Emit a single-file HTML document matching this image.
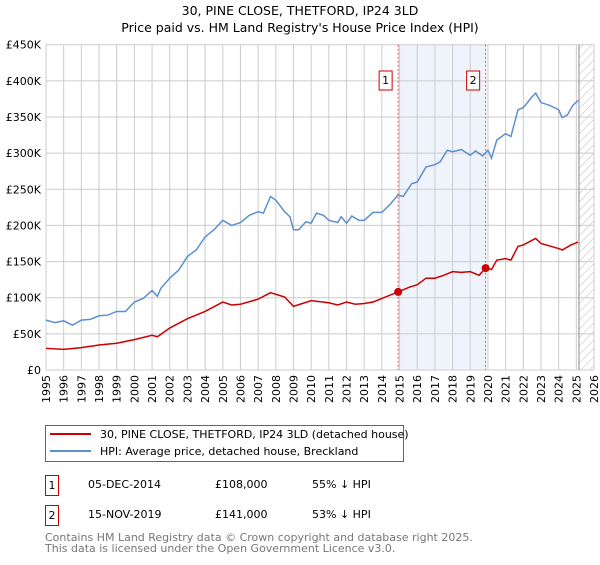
<!DOCTYPE html>
<html><head><meta charset="utf-8"><style>
body{margin:0;background:#fff;font-family:"Liberation Sans","DejaVu Sans",sans-serif;}
svg text{font-family:"DejaVu Sans","Liberation Sans",sans-serif;}
</style></head><body>
<svg width="600" height="560" viewBox="0 0 600 560">
<defs><pattern id="hatch" width="6" height="6" patternUnits="userSpaceOnUse" patternTransform="rotate(45)"><line x1="0" y1="0" x2="0" y2="6" stroke="#bbb" stroke-width="1"/></pattern></defs>
<text x="300" y="15" text-anchor="middle" font-size="12.5">30, PINE CLOSE, THETFORD, IP24 3LD</text>
<text x="300" y="32" text-anchor="middle" font-size="12.5">Price paid vs. HM Land Registry's House Price Index (HPI)</text>
<g id="plot"></g>
<g>
<rect x="45.5" y="425.5" width="358" height="36" fill="#fff" stroke="#666"/>
<line x1="50" y1="434" x2="91" y2="434" stroke="#cc0000" stroke-width="2"/>
<text x="100" y="438" font-size="11">30, PINE CLOSE, THETFORD, IP24 3LD (detached house)</text>
<line x1="50" y1="451" x2="91" y2="451" stroke="#5b8fd0" stroke-width="2"/>
<text x="100" y="455" font-size="11">HPI: Average price, detached house, Breckland</text>
</g>
<g font-size="11">
<rect x="45.5" y="475.5" width="13" height="20" fill="#fff" stroke="#cc0000"/><text x="52" y="489" text-anchor="middle">1</text>
<text x="88" y="488">05-DEC-2014</text><text x="215" y="488">£108,000</text><text x="312" y="488">55% ↓ HPI</text>
<rect x="45.5" y="505.5" width="13" height="20" fill="#fff" stroke="#cc0000"/><text x="52" y="519" text-anchor="middle">2</text>
<text x="88" y="518">15-NOV-2019</text><text x="215" y="518">£141,000</text><text x="312" y="518">53% ↓ HPI</text>
</g>
<text x="45" y="541" font-size="11" fill="#777">Contains HM Land Registry data © Crown copyright and database right 2025.</text>
<text x="45" y="552" font-size="11" fill="#777">This data is licensed under the Open Government Licence v3.0.</text>
</svg>
<script>
const hpiT=[1995,1995.5,1996,1996.5,1997,1997.5,1998,1998.5,1999,1999.5,2000,2000.5,2001,2001.3,2001.5,2002,2002.5,2003,2003.5,2004,2004.5,2005,2005.5,2006,2006.5,2007,2007.3,2007.7,2008,2008.5,2008.8,2009,2009.3,2009.7,2010,2010.3,2010.7,2011,2011.5,2011.7,2012,2012.3,2012.7,2013,2013.5,2014,2014.5,2014.9,2015.2,2015.7,2016,2016.5,2017,2017.3,2017.7,2018,2018.5,2019,2019.3,2019.7,2020,2020.2,2020.5,2021,2021.3,2021.7,2022,2022.5,2022.7,2023,2023.5,2024,2024.2,2024.5,2024.8,2025.1];
const hpiV=[69,65.5,68,62,69,70,75,76,81,81,94,99,110,102,113,127,138,157,166,184,194,207,200,204,214,219,217,240,235,219,212,194,194,205,203,217,214,207,204,212,203,213,207,207,218,218,230,242,240,258,260,281,284,288,304,302,305,297,303,296,304,293,318,327,323,360,363,378,383,370,366,360,349,353,366,373];
const priceT=[1995,1996,1997,1998,1999,2000,2001,2001.3,2002,2003,2004,2005,2005.5,2006,2007,2007.7,2008.5,2009,2009.5,2010,2011,2011.5,2012,2012.5,2013,2013.5,2014,2014.92,2015.5,2016,2016.5,2017,2017.5,2018,2018.5,2019,2019.5,2019.87,2020.2,2020.5,2021,2021.3,2021.7,2022,2022.7,2023,2024,2024.2,2024.7,2025.1];
const priceV=[30,28.6,31,34.6,37,42,48,46,58,71,81,94,90,91,98,107,101,88,92,96,93,90,94,91,92,94,99,108,114,118,127,127,131,136,135,136,131,141,139,152,154,152,171,173,182,175,168,166,173,177];
const saleT=[2014.92,2019.87];
const saleV=[108,141];
const saleLabels=["1","2"];
const yTicks=[0,50,100,150,200,250,300,350,400,450];
const yTickLabels=["£0","£50K","£100K","£150K","£200K","£250K","£300K","£350K","£400K","£450K"];
const xYears=[];for(let y=1995;y<=2026;y++)xYears.push(y);

const X0=46,X1=594,Y0=370,Y1=44.7;
const xs=t=>X0+(t-1995)*(X1-X0)/31;
const ys=v=>Y0-v*(Y0-Y1)/450;
const NS="http://www.w3.org/2000/svg";
const g=document.getElementById('plot');
function mk(tag,attrs,parent){const e=document.createElementNS(NS,tag);for(const k in attrs)e.setAttribute(k,attrs[k]);(parent||g).appendChild(e);return e;}
mk('rect',{x:X0,y:Y1,width:X1-X0,height:Y0-Y1,fill:'#fff'});
const shade=mk('rect',{x:xs(saleT[0]),y:Y1,width:xs(saleT[1])-xs(saleT[0]),height:Y0-Y1,fill:'#eef3fc'});


const hatch=mk('rect',{x:xs(2025.15),y:Y1,width:X1-xs(2025.15),height:Y0-Y1,fill:'url(#hatch)'});


xYears.forEach(y=>{
  const l=mk('line',{x1:xs(y),x2:xs(y),y1:Y1,y2:Y0,stroke:'#ccc','stroke-width':1});
  
  
  const t=mk('text',{x:0,y:0,'font-size':11,'text-anchor':'end',transform:`translate(${xs(y)+4},${Y0+5}) rotate(-90)`});
  t.textContent=y;
  
  
});
yTicks.forEach((v,i)=>{
  const l=mk('line',{x1:X0,x2:X1,y1:ys(v),y2:ys(v),stroke:'#ccc','stroke-width':1});
  
  
  const t=mk('text',{x:X0-5,y:ys(v)+4,'font-size':11,'text-anchor':'end'});
  t.textContent=yTickLabels[i];
  
  
});
const endLine=mk('line',{x1:xs(2025.15),x2:xs(2025.15),y1:Y1,y2:Y0,stroke:'#888','stroke-width':1});


saleT.forEach((t,i)=>{
  const l=mk('line',{x1:xs(t),x2:xs(t),y1:Y1,y2:Y0,stroke:'#e05050','stroke-width':1,'stroke-dasharray':'2,2'});
  
  
  const b=mk('rect',{x:xs(t)-19,y:71,width:13,height:19,fill:'#fff',stroke:'#cc0000'});
  
  
  const tx=mk('text',{x:xs(t)-12.5,y:84,'font-size':11,'text-anchor':'middle'});
  tx.textContent=saleLabels[i];
  
  
});
const hp=mk('polyline',{points:hpiT.map((t,i)=>xs(t)+','+ys(hpiV[i])).join(' '),fill:'none',stroke:'#5b8fd0','stroke-width':1.5});


const pp=mk('polyline',{points:priceT.map((t,i)=>xs(t)+','+ys(priceV[i])).join(' '),fill:'none',stroke:'#cc0000','stroke-width':1.5});


saleT.forEach((t,i)=>{
  const c=mk('circle',{cx:xs(t),cy:ys(saleV[i]),r:4,fill:'#cc0000'});
  
  
});
</script>
</body></html>
